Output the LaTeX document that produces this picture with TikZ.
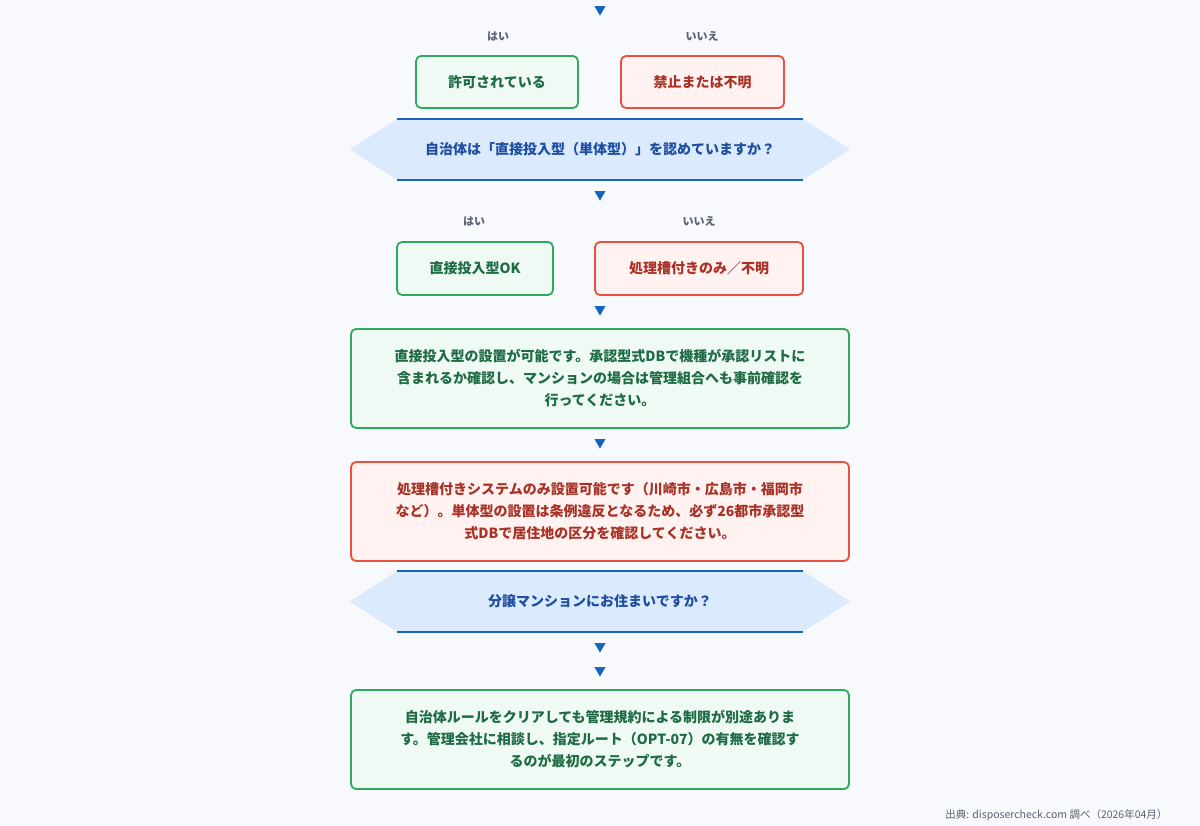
\documentclass[tikz,border=0pt]{standalone}
\usepackage{fontspec}
\setmainfont{Noto Sans CJK JP}
\newfontfamily\jpbold{Noto Sans CJK JP}[BoldFont={* Bold}]
\usetikzlibrary{positioning}
\definecolor{bgcol}{HTML}{F7F9FC}
\definecolor{okline}{HTML}{2EAA5E}
\definecolor{okfill}{HTML}{EEFAF3}
\definecolor{oktext}{HTML}{1E6B45}
\definecolor{ngline}{HTML}{E8503F}
\definecolor{ngfill}{HTML}{FFF2F1}
\definecolor{ngtext}{HTML}{A93226}
\definecolor{qfill}{HTML}{DBEAFD}
\definecolor{qline}{HTML}{1565C0}
\definecolor{qtext}{HTML}{1E4FA0}
\definecolor{lbl}{HTML}{5A6273}
\begin{document}
\begin{tikzpicture}[x=1pt,y=-1pt,
    okbox/.style={draw=okline, fill=okfill, text=oktext, line width=1.8pt, rounded corners=5pt,
        font=\fontsize{14}{22}\selectfont\bfseries, align=center, inner sep=0},
    ngbox/.style={okbox, draw=ngline, fill=ngfill, text=ngtext},
    qtxt/.style={text=qtext, font=\fontsize{14}{20}\selectfont\bfseries},
    ans/.style={text=lbl, font=\fontsize{11}{13}\selectfont\bfseries},
    down/.style={text=qline, font=\fontsize{12}{12}\selectfont},
    hexa/.style={fill=qfill}]
\fill[bgcol] (0,0) rectangle (1200,826);
\useasboundingbox (0,0) rectangle (1200,826);

% question 1
\fill[hexa] (350,149.5) -- (397,119) -- (803,119) -- (850,149.5) -- (803,180) -- (397,180) -- cycle;
\draw[qline, line width=1.8pt] (397,119) -- (803,119) (397,180) -- (803,180);
\node[qtxt] (q1) at (600,149) {自治体は「直接投入型（単体型）」を認めていますか？};

\node[down] (d0) at (600,11) {▼};
\node[ans] (a1y) at (498,36) {はい};
\node[ans] (a1n) at (702,36) {いいえ};
\node[okbox, minimum width=162pt, minimum height=52pt] (r1y) at (497,82) {許可されている};
\node[ngbox, minimum width=163pt, minimum height=52pt] (r1n) at (702.5,82) {禁止または不明};

\node[down] (d1) at (600,196) {▼};
\node[ans] (a2y) at (474,221) {はい};
\node[ans] (a2n) at (699,221) {いいえ};
\node[okbox, minimum width=156pt, minimum height=53pt] (r2y) at (475,268.5) {直接投入型OK};
\node[ngbox, minimum width=208pt, minimum height=53pt] (r2n) at (699,268.5) {処理槽付きのみ／不明};

\node[down] (d2) at (600,311) {▼};
\node[okbox, minimum width=498pt, minimum height=99pt] (ok1) at (600,378.5)
    {直接投入型の設置が可能です。承認型式DBで機種が承認リストに\\含まれるか確認し、マンションの場合は管理組合へも事前確認を\\行ってください。};

\node[down] (d3) at (600,444) {▼};
\node[ngbox, minimum width=498pt, minimum height=99pt] (ng1) at (600,511.5)
    {処理槽付きシステムのみ設置可能です（川崎市・広島市・福岡市\\など）。単体型の設置は条例違反となるため、必ず26都市承認型\\式DBで居住地の区分を確認してください。};

% question 2
\fill[hexa] (350,601.5) -- (397,571) -- (803,571) -- (850,601.5) -- (803,632) -- (397,632) -- cycle;
\draw[qline, line width=1.8pt] (397,571) -- (803,571) (397,632) -- (803,632);
\node[qtxt] (q2) at (600,601) {分譲マンションにお住まいですか？};

\node[down] (d4) at (600,648) {▼};
\node[down] (d5) at (600,672) {▼};
\node[okbox, minimum width=498pt, minimum height=99pt] (ok2) at (600,739.5)
    {自治体ルールをクリアしても管理規約による制限が別途ありま\\す。管理会社に相談し、指定ルート（OPT-07）の有無を確認す\\るのが最初のステップです。};

\node[text=lbl, font=\fontsize{10.5}{12}\selectfont, anchor=east] (src) at (1171,815)
    {出典: disposercheck.com 調べ（2026年04月）};
\end{tikzpicture}
\end{document}
